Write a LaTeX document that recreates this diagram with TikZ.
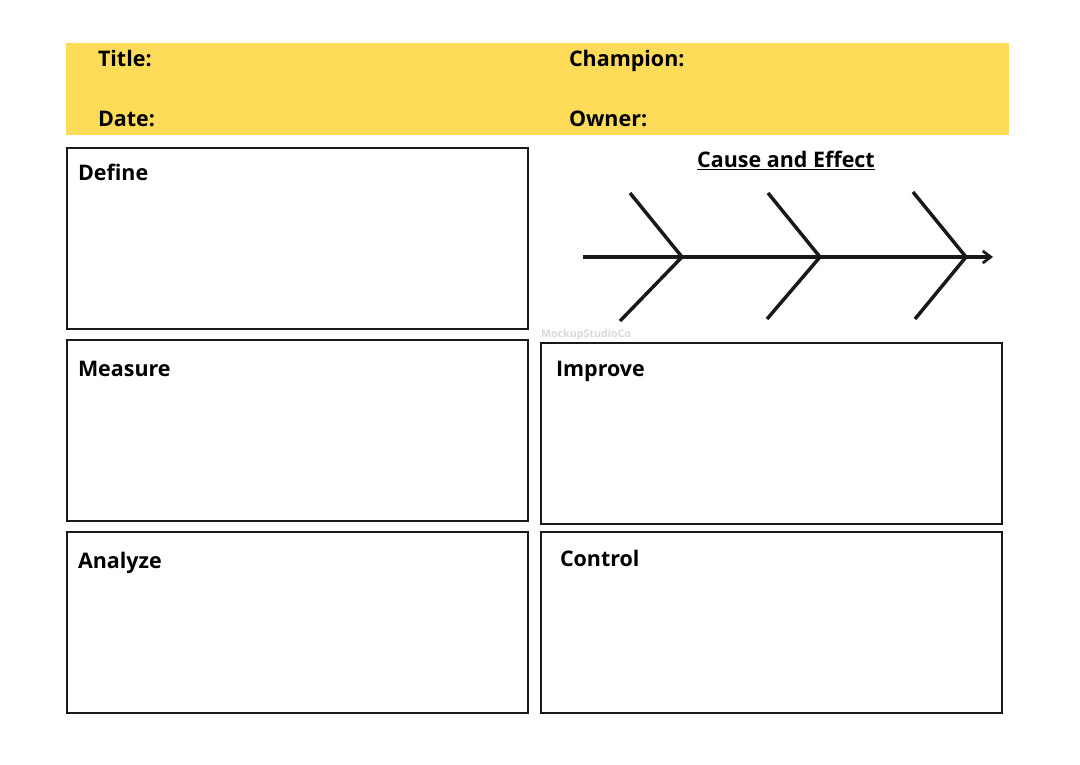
\documentclass[tikz,border=0pt]{standalone}
\usepackage{fontspec}
\setmainfont{Open Sans}
\usetikzlibrary{positioning,calc,arrows.meta}
\definecolor{bannerfill}{HTML}{FEDB58}
\begin{document}
\begin{tikzpicture}[x=0.75pt,y=-0.75pt,
				every node/.style={outer sep=0pt,inner sep=0pt},
				panel/.style={minimum width=345.75pt,minimum height=135.75pt,draw=black!90,line width=2.2pt,node distance=8.25pt},
				head/.style={anchor=base west,font=\fontsize{16.1pt}{20pt}\selectfont\bfseries,text=black},
				bone/.style={line width=2.6pt,draw=black!90}]
				\useasboundingbox (0,0) rectangle (1080,764);
				\fill[white] (0,0) rectangle (1080,764);
				\node (BANNER)  [fill=bannerfill,minimum width=707.25pt,minimum height=69pt] at (537.5,89) {};

				\node (DEFINE)  [panel] at (297.5,238.5)   {};
				\node (MEASURE) [panel,below=of DEFINE]    {};
				\node (ANALYZE) [panel,below=of MEASURE]   {};
				\node (CONTROL) [panel,right=9.75pt of ANALYZE] {};
				\node (IMPROVE) [panel,above=6pt of CONTROL]    {};

				\node (TITLE)    [head] at (98,66)   {Title:};
				\node (DATE)     [head] at (98,126)  {Date:};
				\node (CHAMPION) [head] at (569,66)  {Champion:};
				\node (OWNER)    [head] at (569,126) {Owner:};
				\node (DEFINEL)  [head] at ([shift={(11,32)}]DEFINE.north west)   {Define};
				\node (MEASUREL) [head] at ([shift={(11,36)}]MEASURE.north west)  {Measure};
				\node (ANALYZEL) [head] at ([shift={(11,36)}]ANALYZE.north west)  {Analyze};
				\node (IMPROVEL) [head] at ([shift={(15,33)}]IMPROVE.north west)  {Improve};
				\node (CONTROLL) [head] at ([shift={(19,34)}]CONTROL.north west)  {Control};
				\node (CAUSE)    [head,anchor=base] at (786,167) {\underline{Cause and Effect}};
				\node (MARK) [anchor=base west,font=\fontsize{8pt}{10pt}\selectfont\bfseries,text=black!15] at (541,337) {MockupStudioCo};

				\coordinate (TAIL)  at (583,257);
				\coordinate (HEAD)  at (993,257);
				\coordinate (JA)    at (682,257);
				\coordinate (JB)    at (820,257);
				\coordinate (JC)    at (966,257);
				\draw[bone,-{Straight Barb[length=6pt,width=9pt,line width=2pt]}] (TAIL) -- (HEAD);
				\draw[bone] (630,193) -- (JA) -- (620,321);
				\draw[bone] (768,193) -- (JB) -- (767,319);
				\draw[bone] (913,192) -- (JC) -- (915,319);
			\end{tikzpicture}
\end{document}
